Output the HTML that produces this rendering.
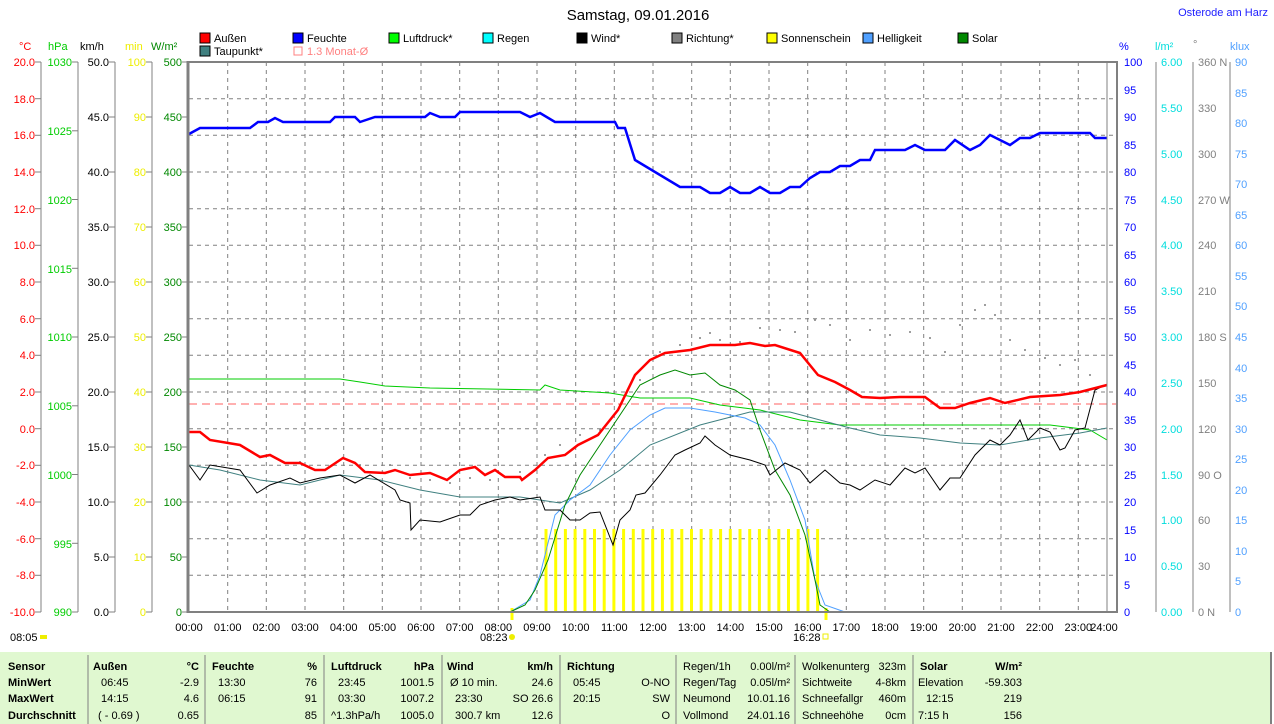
<!DOCTYPE html>
<html><head><meta charset="utf-8"><style>
body{margin:0;background:#fff;width:1274px;height:724px;overflow:hidden;font-family:"Liberation Sans",sans-serif;}
svg{position:absolute;left:0;top:0}
text{font-family:"Liberation Sans",sans-serif;font-size:11px}
text.title{font-size:15px}
</style></head><body>
<svg width="1274" height="724" viewBox="0 0 1274 724">
<text class="title" x="638" y="20" text-anchor="middle" fill="#000">Samstag, 09.01.2016</text>
<text x="1268" y="16" text-anchor="end" fill="#2020ff">Osterode am Harz</text>
<!-- legend -->
<g>
<rect x="200" y="33" width="10" height="10" fill="#f00" stroke="#000"/><text x="214" y="42">Außen</text>
<rect x="293" y="33" width="10" height="10" fill="#00f" stroke="#000"/><text x="307" y="42">Feuchte</text>
<rect x="389" y="33" width="10" height="10" fill="#0f0" stroke="#000"/><text x="403" y="42">Luftdruck*</text>
<rect x="483" y="33" width="10" height="10" fill="#0ff" stroke="#000"/><text x="497" y="42">Regen</text>
<rect x="577" y="33" width="10" height="10" fill="#000" stroke="#000"/><text x="591" y="42">Wind*</text>
<rect x="672" y="33" width="10" height="10" fill="#808080" stroke="#000"/><text x="686" y="42">Richtung*</text>
<rect x="767" y="33" width="10" height="10" fill="#ff0" stroke="#000"/><text x="781" y="42">Sonnenschein</text>
<rect x="863" y="33" width="10" height="10" fill="#50a0ff" stroke="#000"/><text x="877" y="42">Helligkeit</text>
<rect x="958" y="33" width="10" height="10" fill="#080" stroke="#000"/><text x="972" y="42">Solar</text>
<rect x="200" y="46" width="10" height="10" fill="#408080" stroke="#000"/><text x="214" y="55">Taupunkt*</text>
<rect x="294" y="47" width="8" height="8" fill="none" stroke="#ff8080"/><text x="307" y="55" fill="#ff8080">1.3 Monat-Ø</text>
</g>
<!-- unit labels -->
<text x="19" y="50" fill="#f00">°C</text>
<text x="48" y="50" fill="#0c0">hPa</text>
<text x="80" y="50" fill="#000">km/h</text>
<text x="125" y="50" fill="#ee0">min</text>
<text x="151" y="50" fill="#080">W/m²</text>
<text x="1119" y="50" fill="#00f">%</text>
<text x="1155" y="50" fill="#0dd">l/m²</text>
<text x="1193" y="48" fill="#808080">°</text>
<text x="1230" y="50" fill="#50a0ff">klux</text>
<!-- grid -->
<g stroke="#808080" stroke-dasharray="4,4" stroke-width="1">
<line x1="189" x2="1117" y1="98.7" y2="98.7"/><line x1="189" x2="1117" y1="135.3" y2="135.3"/><line x1="189" x2="1117" y1="172" y2="172"/><line x1="189" x2="1117" y1="208.7" y2="208.7"/><line x1="189" x2="1117" y1="245.3" y2="245.3"/><line x1="189" x2="1117" y1="282" y2="282"/><line x1="189" x2="1117" y1="318.7" y2="318.7"/><line x1="189" x2="1117" y1="355.3" y2="355.3"/><line x1="189" x2="1117" y1="392" y2="392"/><line x1="189" x2="1117" y1="428.7" y2="428.7"/><line x1="189" x2="1117" y1="465.3" y2="465.3"/><line x1="189" x2="1117" y1="502" y2="502"/><line x1="189" x2="1117" y1="538.7" y2="538.7"/><line x1="189" x2="1117" y1="575.3" y2="575.3"/>
<line y1="62" y2="612" x1="227.7" x2="227.7"/><line y1="62" y2="612" x1="266.3" x2="266.3"/><line y1="62" y2="612" x1="305" x2="305"/><line y1="62" y2="612" x1="343.7" x2="343.7"/><line y1="62" y2="612" x1="382.3" x2="382.3"/><line y1="62" y2="612" x1="421" x2="421"/><line y1="62" y2="612" x1="459.7" x2="459.7"/><line y1="62" y2="612" x1="498.3" x2="498.3"/><line y1="62" y2="612" x1="537" x2="537"/><line y1="62" y2="612" x1="575.7" x2="575.7"/><line y1="62" y2="612" x1="614.3" x2="614.3"/><line y1="62" y2="612" x1="653" x2="653"/><line y1="62" y2="612" x1="691.7" x2="691.7"/><line y1="62" y2="612" x1="730.3" x2="730.3"/><line y1="62" y2="612" x1="769" x2="769"/><line y1="62" y2="612" x1="807.7" x2="807.7"/><line y1="62" y2="612" x1="846.3" x2="846.3"/><line y1="62" y2="612" x1="885" x2="885"/><line y1="62" y2="612" x1="923.7" x2="923.7"/><line y1="62" y2="612" x1="962.3" x2="962.3"/><line y1="62" y2="612" x1="1001" x2="1001"/><line y1="62" y2="612" x1="1039.7" x2="1039.7"/><line y1="62" y2="612" x1="1078.3" x2="1078.3"/>
</g>
<line x1="189" x2="1117" y1="404" y2="404" stroke="#ff6060" stroke-dasharray="8,5"/>
<!-- sunshine bars -->
<g stroke="#ff0" stroke-width="3">
<line x1="546" x2="546" y1="529" y2="612"/><line x1="555.7" x2="555.7" y1="529" y2="612"/><line x1="565.4" x2="565.4" y1="529" y2="612"/><line x1="575.1" x2="575.1" y1="529" y2="612"/><line x1="584.8" x2="584.8" y1="529" y2="612"/><line x1="594.5" x2="594.5" y1="529" y2="612"/><line x1="604.2" x2="604.2" y1="529" y2="612"/><line x1="613.9" x2="613.9" y1="529" y2="612"/><line x1="623.6" x2="623.6" y1="529" y2="612"/><line x1="633.3" x2="633.3" y1="529" y2="612"/><line x1="643" x2="643" y1="529" y2="612"/><line x1="652.7" x2="652.7" y1="529" y2="612"/><line x1="662.4" x2="662.4" y1="529" y2="612"/><line x1="672.1" x2="672.1" y1="529" y2="612"/><line x1="681.8" x2="681.8" y1="529" y2="612"/><line x1="691.5" x2="691.5" y1="529" y2="612"/><line x1="701.2" x2="701.2" y1="529" y2="612"/><line x1="710.9" x2="710.9" y1="529" y2="612"/><line x1="720.6" x2="720.6" y1="529" y2="612"/><line x1="730.3" x2="730.3" y1="529" y2="612"/><line x1="740" x2="740" y1="529" y2="612"/><line x1="749.7" x2="749.7" y1="529" y2="612"/><line x1="759.4" x2="759.4" y1="529" y2="612"/><line x1="769.1" x2="769.1" y1="529" y2="612"/><line x1="778.8" x2="778.8" y1="529" y2="612"/><line x1="788.5" x2="788.5" y1="529" y2="612"/><line x1="798.2" x2="798.2" y1="529" y2="612"/><line x1="807.9" x2="807.9" y1="529" y2="612"/><line x1="817.6" x2="817.6" y1="529" y2="612"/>
<line x1="512" x2="512" y1="608" y2="620"/><line x1="826" x2="826" y1="608" y2="620"/>
</g>
<!-- direction dots -->
<g fill="#808080">
<circle cx="300" cy="462" r="1"/><circle cx="320" cy="470" r="1"/><circle cx="340" cy="460" r="1"/><circle cx="360" cy="465" r="1"/><circle cx="390" cy="465" r="1"/><circle cx="410" cy="478" r="1"/><circle cx="430" cy="480" r="1"/><circle cx="450" cy="483" r="1"/><circle cx="470" cy="478" r="1"/><circle cx="490" cy="480" r="1"/><circle cx="520" cy="472" r="1"/><circle cx="545" cy="455" r="1"/><circle cx="560" cy="445" r="1"/><circle cx="580" cy="435" r="1"/><circle cx="600" cy="430" r="1"/><circle cx="620" cy="405" r="1"/><circle cx="640" cy="380" r="1"/><circle cx="660" cy="352" r="1"/><circle cx="680" cy="345" r="1"/><circle cx="700" cy="338" r="1"/><circle cx="710" cy="333" r="1"/><circle cx="720" cy="340" r="1"/><circle cx="740" cy="342" r="1"/><circle cx="760" cy="328" r="1"/><circle cx="780" cy="330" r="1"/><circle cx="795" cy="332" r="1"/><circle cx="815" cy="320" r="1"/><circle cx="830" cy="325" r="1"/><circle cx="850" cy="340" r="1"/><circle cx="870" cy="330" r="1"/><circle cx="890" cy="335" r="1"/><circle cx="910" cy="332" r="1"/><circle cx="930" cy="338" r="1"/><circle cx="945" cy="352" r="1"/><circle cx="960" cy="325" r="1"/><circle cx="975" cy="310" r="1"/><circle cx="985" cy="305" r="1"/><circle cx="995" cy="315" r="1"/><circle cx="1010" cy="340" r="1"/><circle cx="1025" cy="350" r="1"/><circle cx="1045" cy="358" r="1"/><circle cx="1060" cy="365" r="1"/><circle cx="1075" cy="360" r="1"/><circle cx="1090" cy="375" r="1"/>
</g>
<!-- series -->
<g fill="none">
<polyline stroke="#0c0" stroke-width="1" points="189,379 340,379 360,382 385,386 430,388 540,390 545,385 560,390 610,393 640,398 690,398 720,405 760,410 800,420 840,425 1050,425 1090,430 1107,440"/>
<polyline stroke="#408080" stroke-width="1" points="189,465 220,470 260,480 300,485 340,475 380,480 420,490 460,497 520,497 560,503 590,490 620,470 650,445 700,425 750,412 790,412 820,420 850,428 880,435 920,438 960,443 1000,445 1040,438 1080,433 1107,428"/>
<polyline stroke="#50a0ff" stroke-width="1" points="510,612 530,600 540,575 555,515 570,500 590,485 610,455 630,430 650,415 665,408 690,408 715,412 745,418 760,425 775,445 790,480 805,520 815,580 825,605 845,612"/>
<polyline stroke="#080" stroke-width="1" points="510,612 525,605 535,590 548,560 565,505 580,475 600,445 620,415 640,385 660,375 675,370 690,375 705,373 720,385 735,390 750,400 760,430 775,470 790,495 805,535 815,580 820,605 830,612"/>
<polyline stroke="#000" stroke-width="1" points="189,465 200,480 210,465 240,470 257,493 270,485 290,478 300,483 320,478 340,475 355,483 370,475 395,490 400,500 410,503 411,530 420,520 440,522 460,515 470,515 480,505 495,500 510,497 520,500 540,497 545,510 560,510 570,520 580,520 590,513 600,512 613,545 620,520 630,510 636,495 645,493 660,475 675,455 685,450 700,443 705,436 715,445 730,455 750,460 765,465 770,475 785,463 800,470 810,483 825,470 840,483 850,485 860,490 875,480 890,485 905,468 915,473 925,468 940,490 950,478 960,478 975,455 990,440 1000,445 1010,435 1020,420 1028,440 1040,428 1050,432 1060,450 1065,448 1075,430 1085,428 1095,390 1105,385"/>
<polyline stroke="#f00" stroke-width="2.5" points="189,432 200,432 210,440 240,445 260,457 270,455 285,463 300,463 315,470 325,470 343,458 355,463 365,472 385,473 395,470 410,475 430,473 447,480 460,470 475,467 485,475 495,470 505,477 520,477 522,480 535,470 548,458 565,455 578,445 598,435 618,410 635,375 650,360 665,353 690,350 710,345 735,345 750,343 765,346 775,345 800,353 818,375 835,382 850,390 862,397 880,398 900,397 925,397 940,408 955,408 970,403 990,398 1005,403 1030,397 1060,395 1080,392 1107,385"/>
<polyline stroke="#00f" stroke-width="2.5" points="189,134 200,128 250,128 258,122 268,122 275,118 283,122 330,122 335,117 355,117 360,122 375,117 425,117 430,113 440,117 455,117 460,112 520,112 530,117 540,113 555,122 615,122 618,128 625,128 635,160 680,187 700,187 710,193 720,193 730,187 740,193 750,193 760,187 770,193 780,193 790,187 800,187 810,178 820,172 830,172 840,166 850,166 860,160 870,160 875,150 905,150 915,145 925,150 945,150 955,140 970,150 980,145 990,135 1000,140 1010,145 1020,138 1030,138 1040,133 1090,133 1095,138 1107,138"/>
</g>
<!-- frame -->
<g stroke="#808080" fill="none">
<line x1="188" y1="61" x2="188" y2="613" stroke-width="3"/>
<line x1="187" y1="62" x2="1118" y2="62" stroke-width="2"/>
<line x1="187" y1="612" x2="1118" y2="612" stroke-width="2"/>
<line x1="1117" y1="61" x2="1117" y2="613" stroke-width="2"/>
<line x1="1107" y1="62" x2="1107" y2="612" stroke-width="1"/>
<line x1="41" y1="62" x2="41" y2="612"/><line x1="78" y1="62" x2="78" y2="612"/><line x1="115" y1="62" x2="115" y2="612"/><line x1="152" y1="62" x2="152" y2="612"/>
<line x1="1156" y1="62" x2="1156" y2="612"/><line x1="1193" y1="62" x2="1193" y2="612"/><line x1="1230" y1="62" x2="1230" y2="612"/>
</g>
<!-- left °C -->
<g fill="#f00" text-anchor="end">
<text x="35" y="66">20.0</text><text x="35" y="103">18.0</text><text x="35" y="139">16.0</text><text x="35" y="176">14.0</text><text x="35" y="213">12.0</text><text x="35" y="249">10.0</text><text x="35" y="286">8.0</text><text x="35" y="323">6.0</text><text x="35" y="359">4.0</text><text x="35" y="396">2.0</text><text x="35" y="433">0.0</text><text x="35" y="469">-2.0</text><text x="35" y="506">-4.0</text><text x="35" y="543">-6.0</text><text x="35" y="579">-8.0</text><text x="35" y="616">-10.0</text>
</g>
<g stroke="#808080"><line x1="35" x2="41" y1="62" y2="62"/><line x1="35" x2="41" y1="98.7" y2="98.7"/><line x1="35" x2="41" y1="135.3" y2="135.3"/><line x1="35" x2="41" y1="172" y2="172"/><line x1="35" x2="41" y1="208.7" y2="208.7"/><line x1="35" x2="41" y1="245.3" y2="245.3"/><line x1="35" x2="41" y1="282" y2="282"/><line x1="35" x2="41" y1="318.7" y2="318.7"/><line x1="35" x2="41" y1="355.3" y2="355.3"/><line x1="35" x2="41" y1="392" y2="392"/><line x1="35" x2="41" y1="428.7" y2="428.7"/><line x1="35" x2="41" y1="465.3" y2="465.3"/><line x1="35" x2="41" y1="502" y2="502"/><line x1="35" x2="41" y1="538.7" y2="538.7"/><line x1="35" x2="41" y1="575.3" y2="575.3"/><line x1="35" x2="41" y1="612" y2="612"/></g>
<!-- hPa -->
<g fill="#0c0" text-anchor="end">
<text x="72" y="66">1030</text><text x="72" y="135">1025</text><text x="72" y="204">1020</text><text x="72" y="273">1015</text><text x="72" y="341">1010</text><text x="72" y="410">1005</text><text x="72" y="479">1000</text><text x="72" y="548">995</text><text x="72" y="616">990</text>
</g>
<!-- km/h -->
<g fill="#000" text-anchor="end">
<text x="109" y="66">50.0</text><text x="109" y="121">45.0</text><text x="109" y="176">40.0</text><text x="109" y="231">35.0</text><text x="109" y="286">30.0</text><text x="109" y="341">25.0</text><text x="109" y="396">20.0</text><text x="109" y="451">15.0</text><text x="109" y="506">10.0</text><text x="109" y="561">5.0</text><text x="109" y="616">0.0</text>
</g>
<!-- min -->
<g fill="#ee0" text-anchor="end">
<text x="146" y="66">100</text><text x="146" y="121">90</text><text x="146" y="176">80</text><text x="146" y="231">70</text><text x="146" y="286">60</text><text x="146" y="341">50</text><text x="146" y="396">40</text><text x="146" y="451">30</text><text x="146" y="506">20</text><text x="146" y="561">10</text><text x="146" y="616">0</text>
</g>
<!-- W/m2 -->
<g fill="#080" text-anchor="end">
<text x="182" y="66">500</text><text x="182" y="121">450</text><text x="182" y="176">400</text><text x="182" y="231">350</text><text x="182" y="286">300</text><text x="182" y="341">250</text><text x="182" y="396">200</text><text x="182" y="451">150</text><text x="182" y="506">100</text><text x="182" y="561">50</text><text x="182" y="616">0</text>
</g>
<g stroke="#808080">
<line x1="72" x2="78" y1="62" y2="62"/><line x1="72" x2="78" y1="130.8" y2="130.8"/><line x1="72" x2="78" y1="199.5" y2="199.5"/><line x1="72" x2="78" y1="268.3" y2="268.3"/><line x1="72" x2="78" y1="337" y2="337"/><line x1="72" x2="78" y1="405.8" y2="405.8"/><line x1="72" x2="78" y1="474.5" y2="474.5"/><line x1="72" x2="78" y1="543.3" y2="543.3"/><line x1="72" x2="78" y1="612" y2="612"/>
<line x1="109" x2="115" y1="62" y2="62"/><line x1="109" x2="115" y1="117" y2="117"/><line x1="109" x2="115" y1="172" y2="172"/><line x1="109" x2="115" y1="227" y2="227"/><line x1="109" x2="115" y1="282" y2="282"/><line x1="109" x2="115" y1="337" y2="337"/><line x1="109" x2="115" y1="392" y2="392"/><line x1="109" x2="115" y1="447" y2="447"/><line x1="109" x2="115" y1="502" y2="502"/><line x1="109" x2="115" y1="557" y2="557"/><line x1="109" x2="115" y1="612" y2="612"/>
<line x1="146" x2="152" y1="62" y2="62"/><line x1="146" x2="152" y1="117" y2="117"/><line x1="146" x2="152" y1="172" y2="172"/><line x1="146" x2="152" y1="227" y2="227"/><line x1="146" x2="152" y1="282" y2="282"/><line x1="146" x2="152" y1="337" y2="337"/><line x1="146" x2="152" y1="392" y2="392"/><line x1="146" x2="152" y1="447" y2="447"/><line x1="146" x2="152" y1="502" y2="502"/><line x1="146" x2="152" y1="557" y2="557"/><line x1="146" x2="152" y1="612" y2="612"/>
<line x1="182" x2="188" y1="62" y2="62"/><line x1="182" x2="188" y1="117" y2="117"/><line x1="182" x2="188" y1="172" y2="172"/><line x1="182" x2="188" y1="227" y2="227"/><line x1="182" x2="188" y1="282" y2="282"/><line x1="182" x2="188" y1="337" y2="337"/><line x1="182" x2="188" y1="392" y2="392"/><line x1="182" x2="188" y1="447" y2="447"/><line x1="182" x2="188" y1="502" y2="502"/><line x1="182" x2="188" y1="557" y2="557"/><line x1="182" x2="188" y1="612" y2="612"/>
</g>
<!-- right % -->
<g fill="#00f">
<text x="1124" y="66">100</text><text x="1124" y="94">95</text><text x="1124" y="121">90</text><text x="1124" y="149">85</text><text x="1124" y="176">80</text><text x="1124" y="204">75</text><text x="1124" y="231">70</text><text x="1124" y="259">65</text><text x="1124" y="286">60</text><text x="1124" y="314">55</text><text x="1124" y="341">50</text><text x="1124" y="369">45</text><text x="1124" y="396">40</text><text x="1124" y="424">35</text><text x="1124" y="451">30</text><text x="1124" y="479">25</text><text x="1124" y="506">20</text><text x="1124" y="534">15</text><text x="1124" y="561">10</text><text x="1124" y="589">5</text><text x="1124" y="616">0</text>
</g>
<g fill="#0dd">
<text x="1161" y="66">6.00</text><text x="1161" y="112">5.50</text><text x="1161" y="158">5.00</text><text x="1161" y="204">4.50</text><text x="1161" y="249">4.00</text><text x="1161" y="295">3.50</text><text x="1161" y="341">3.00</text><text x="1161" y="387">2.50</text><text x="1161" y="433">2.00</text><text x="1161" y="479">1.50</text><text x="1161" y="524">1.00</text><text x="1161" y="570">0.50</text><text x="1161" y="616">0.00</text>
</g>
<g fill="#808080">
<text x="1198" y="66">360 N</text><text x="1198" y="112">330</text><text x="1198" y="158">300</text><text x="1198" y="204">270 W</text><text x="1198" y="249">240</text><text x="1198" y="295">210</text><text x="1198" y="341">180 S</text><text x="1198" y="387">150</text><text x="1198" y="433">120</text><text x="1198" y="479">90 O</text><text x="1198" y="524">60</text><text x="1198" y="570">30</text><text x="1198" y="616">0 N</text>
</g>
<g fill="#50a0ff">
<text x="1235" y="66">90</text><text x="1235" y="97">85</text><text x="1235" y="127">80</text><text x="1235" y="158">75</text><text x="1235" y="188">70</text><text x="1235" y="219">65</text><text x="1235" y="249">60</text><text x="1235" y="280">55</text><text x="1235" y="310">50</text><text x="1235" y="341">45</text><text x="1235" y="372">40</text><text x="1235" y="402">35</text><text x="1235" y="433">30</text><text x="1235" y="463">25</text><text x="1235" y="494">20</text><text x="1235" y="524">15</text><text x="1235" y="555">10</text><text x="1235" y="585">5</text><text x="1235" y="616">0</text>
</g>
<!-- time labels -->
<g fill="#000" text-anchor="middle">
<text x="189" y="631">00:00</text><text x="227.7" y="631">01:00</text><text x="266.3" y="631">02:00</text><text x="305" y="631">03:00</text><text x="343.7" y="631">04:00</text><text x="382.3" y="631">05:00</text><text x="421" y="631">06:00</text><text x="459.7" y="631">07:00</text><text x="498.3" y="631">08:00</text><text x="537" y="631">09:00</text><text x="575.7" y="631">10:00</text><text x="614.3" y="631">11:00</text><text x="653" y="631">12:00</text><text x="691.7" y="631">13:00</text><text x="730.3" y="631">14:00</text><text x="769" y="631">15:00</text><text x="807.7" y="631">16:00</text><text x="846.3" y="631">17:00</text><text x="885" y="631">18:00</text><text x="923.7" y="631">19:00</text><text x="962.3" y="631">20:00</text><text x="1001" y="631">21:00</text><text x="1039.7" y="631">22:00</text><text x="1078.3" y="631">23:00</text><text x="1104" y="631">24:00</text>
</g>
<text x="10" y="641">08:05</text><rect x="40" y="635" width="7" height="4" fill="#ee0"/>
<text x="480" y="641">08:23</text><circle cx="512" cy="637" r="3" fill="#ee0"/>
<text x="793" y="641">16:28</text><rect x="823" y="634" width="5" height="5" fill="none" stroke="#ee0"/>
<!-- table -->
<rect x="0" y="652" width="1270" height="72" fill="#e0f8d0"/>
<line x1="1271" y1="652" x2="1271" y2="724" stroke="#808080" stroke-width="2"/>
<g stroke="#808080"><line x1="88" x2="88" y1="655" y2="724"/><line x1="205" x2="205" y1="655" y2="724"/><line x1="324" x2="324" y1="655" y2="724"/><line x1="442" x2="442" y1="655" y2="724"/><line x1="560" x2="560" y1="655" y2="724"/><line x1="676" x2="676" y1="655" y2="724"/><line x1="795" x2="795" y1="655" y2="724"/><line x1="913" x2="913" y1="655" y2="724"/></g>
<g font-weight="bold">
<text x="8" y="670">Sensor</text><text x="8" y="686">MinWert</text><text x="8" y="702">MaxWert</text><text x="8" y="719">Durchschnitt</text>
<text x="93" y="670">Außen</text><text x="199" y="670" text-anchor="end">°C</text>
<text x="212" y="670">Feuchte</text><text x="317" y="670" text-anchor="end">%</text>
<text x="331" y="670">Luftdruck</text><text x="434" y="670" text-anchor="end">hPa</text>
<text x="447" y="670">Wind</text><text x="553" y="670" text-anchor="end">km/h</text>
<text x="567" y="670">Richtung</text>
<text x="920" y="670">Solar</text><text x="1022" y="670" text-anchor="end">W/m²</text>
</g>
<g>
<text x="101" y="686">06:45</text><text x="199" y="686" text-anchor="end">-2.9</text>
<text x="101" y="702">14:15</text><text x="199" y="702" text-anchor="end">4.6</text>
<text x="98" y="719">( - 0.69 )</text><text x="199" y="719" text-anchor="end">0.65</text>
<text x="218" y="686">13:30</text><text x="317" y="686" text-anchor="end">76</text>
<text x="218" y="702">06:15</text><text x="317" y="702" text-anchor="end">91</text>
<text x="317" y="719" text-anchor="end">85</text>
<text x="338" y="686">23:45</text><text x="434" y="686" text-anchor="end">1001.5</text>
<text x="338" y="702">03:30</text><text x="434" y="702" text-anchor="end">1007.2</text>
<text x="331" y="719">^1.3hPa/h</text><text x="434" y="719" text-anchor="end">1005.0</text>
<text x="450" y="686">Ø 10 min.</text><text x="553" y="686" text-anchor="end">24.6</text>
<text x="455" y="702">23:30</text><text x="553" y="702" text-anchor="end">SO 26.6</text>
<text x="455" y="719">300.7 km</text><text x="553" y="719" text-anchor="end">12.6</text>
<text x="573" y="686">05:45</text><text x="670" y="686" text-anchor="end">O-NO</text>
<text x="573" y="702">20:15</text><text x="670" y="702" text-anchor="end">SW</text>
<text x="670" y="719" text-anchor="end">O</text>
<text x="683" y="670">Regen/1h</text><text x="790" y="670" text-anchor="end">0.00l/m²</text>
<text x="683" y="686">Regen/Tag</text><text x="790" y="686" text-anchor="end">0.05l/m²</text>
<text x="683" y="702">Neumond</text><text x="790" y="702" text-anchor="end">10.01.16</text>
<text x="683" y="719">Vollmond</text><text x="790" y="719" text-anchor="end">24.01.16</text>
<text x="802" y="670">Wolkenunterg</text><text x="906" y="670" text-anchor="end">323m</text>
<text x="802" y="686">Sichtweite</text><text x="906" y="686" text-anchor="end">4-8km</text>
<text x="802" y="702">Schneefallgr</text><text x="906" y="702" text-anchor="end">460m</text>
<text x="802" y="719">Schneehöhe</text><text x="906" y="719" text-anchor="end">0cm</text>
<text x="918" y="686">Elevation</text><text x="1022" y="686" text-anchor="end">-59.303</text>
<text x="926" y="702">12:15</text><text x="1022" y="702" text-anchor="end">219</text>
<text x="918" y="719">7:15 h</text><text x="1022" y="719" text-anchor="end">156</text>
</g>
</svg>
</body></html>
